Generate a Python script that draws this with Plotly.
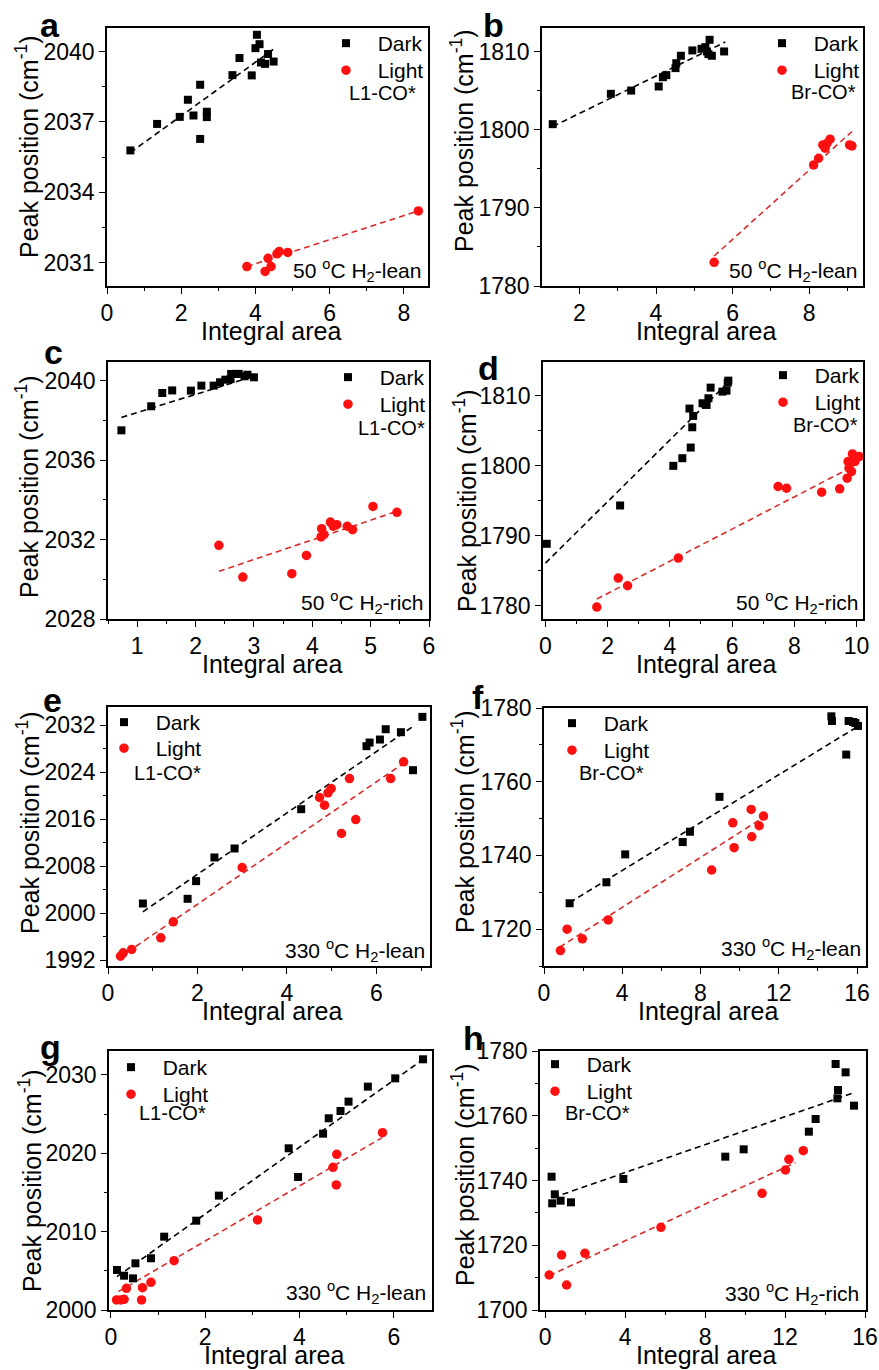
import plotly.graph_objects as go

# ---------------- data ----------------
# a: 50 C H2-lean, L1-CO*
a_dark_x = [0.63, 1.35, 1.96, 2.18, 2.33, 2.51, 2.51, 2.69, 2.69, 3.38, 3.57, 3.90, 4.04, 4.00, 4.11, 4.15, 4.26, 4.34, 4.49]
a_dark_y = [2035.78, 2036.91, 2037.21, 2037.94, 2037.27, 2038.58, 2036.27, 2037.43, 2037.20, 2038.99, 2039.72, 2038.98, 2040.71, 2040.14, 2040.31, 2039.53, 2039.47, 2039.89, 2039.57]
a_light_x = [3.77, 4.26, 4.42, 4.34, 4.58, 4.64, 4.87, 8.39]
a_light_y = [2030.83, 2030.62, 2030.83, 2031.18, 2031.37, 2031.47, 2031.43, 2033.20]
a_fit_dark_x, a_fit_dark_y = [0.63, 4.49], [2035.69, 2040.10]
a_fit_light_x, a_fit_light_y = [3.77, 8.39], [2030.83, 2033.20]

# b: 50 C H2-lean, Br-CO*
b_dark_x = [1.30, 2.82, 3.35, 4.07, 4.18, 4.27, 4.51, 4.53, 4.65, 4.95, 5.19, 5.29, 5.33, 5.40, 5.37, 5.46, 5.78]
b_dark_y = [1800.70, 1804.58, 1805.00, 1805.52, 1806.71, 1806.97, 1807.87, 1808.50, 1809.45, 1810.13, 1810.34, 1810.55, 1810.00, 1811.49, 1809.66, 1809.45, 1810.00]
b_light_x = [5.52, 8.12, 8.25, 8.36, 8.42, 8.47, 8.55, 9.06, 9.12]
b_light_y = [1783.03, 1795.49, 1796.34, 1798.05, 1797.62, 1798.26, 1798.78, 1798.05, 1797.92]
b_fit_dark_x, b_fit_dark_y = [1.30, 5.81], [1800.40, 1811.20]
b_fit_light_x, b_fit_light_y = [5.52, 9.12], [1783.84, 1799.76]

# c: 50 C H2-rich, L1-CO*
c_dark_x = [0.73, 1.24, 1.43, 1.60, 1.92, 2.10, 2.31, 2.42, 2.51, 2.60, 2.61, 2.68, 2.74, 2.84, 2.89, 3.00]
c_dark_y = [2037.50, 2038.71, 2039.38, 2039.51, 2039.50, 2039.75, 2039.75, 2039.92, 2040.05, 2040.08, 2040.34, 2040.34, 2040.34, 2040.22, 2040.30, 2040.17]
c_light_x = [2.40, 2.81, 3.65, 3.90, 4.15, 4.16, 4.20, 4.31, 4.36, 4.42, 4.60, 4.69, 5.04, 5.45]
c_light_y = [2031.71, 2030.11, 2030.28, 2031.20, 2032.13, 2032.55, 2032.25, 2032.88, 2032.67, 2032.75, 2032.67, 2032.50, 2033.67, 2033.37]
c_fit_dark_x, c_fit_dark_y = [0.73, 3.00], [2038.15, 2040.22]
c_fit_light_x, c_fit_light_y = [2.40, 5.45], [2030.40, 2033.42]

# d: 50 C H2-rich, Br-CO*
d_dark_x = [0.04, 2.40, 4.11, 4.40, 4.67, 4.63, 4.72, 4.75, 5.05, 5.18, 5.24, 5.31, 5.69, 5.82, 5.86, 5.88]
d_dark_y = [1788.84, 1794.31, 1799.97, 1801.06, 1802.58, 1808.15, 1805.48, 1807.10, 1808.91, 1808.67, 1809.62, 1811.14, 1810.57, 1810.71, 1811.85, 1812.14]
d_light_x = [1.65, 2.34, 2.64, 4.27, 7.48, 7.75, 8.88, 9.46, 9.70, 9.73, 9.76, 9.84, 9.87, 9.95, 10.09]
d_light_y = [1779.80, 1783.94, 1782.85, 1786.80, 1797.02, 1796.78, 1796.21, 1796.69, 1798.21, 1800.58, 1799.63, 1799.16, 1801.68, 1800.58, 1801.30]
d_fit_dark_x, d_fit_dark_y = [0.00, 5.82], [1786.08, 1811.66]
d_fit_light_x, d_fit_light_y = [1.65, 9.68], [1780.95, 1799.40]

# e: 330 C H2-lean, L1-CO*
e_dark_x = [0.78, 1.78, 1.97, 2.38, 2.83, 4.32, 5.78, 5.85, 6.08, 6.21, 6.55, 6.82, 7.03]
e_dark_y = [2001.64, 2002.44, 2005.45, 2009.48, 2011.01, 2017.70, 2028.43, 2029.05, 2029.56, 2031.32, 2030.81, 2024.34, 2033.42]
e_light_x = [0.28, 0.34, 0.53, 1.18, 1.46, 3.00, 4.73, 4.84, 4.92, 4.99, 5.22, 5.40, 5.54, 6.32, 6.61]
e_light_y = [1992.68, 1993.25, 1993.82, 1995.80, 1998.53, 2007.77, 2019.69, 2018.38, 2020.48, 2021.22, 2013.56, 2022.92, 2015.94, 2022.92, 2025.76]
e_fit_dark_x, e_fit_dark_y = [0.78, 6.86], [2000.23, 2032.00]
e_fit_light_x, e_fit_light_y = [0.25, 6.60], [1992.40, 2025.47]

# f: 330 C H2-lean, Br-CO*
f_dark_x = [1.31, 3.19, 4.15, 7.09, 7.46, 8.97, 14.69, 14.72, 15.45, 15.57, 15.80, 15.92, 16.05]
f_dark_y = [1727.02, 1732.71, 1740.29, 1743.63, 1746.43, 1755.90, 1777.74, 1776.48, 1767.36, 1776.48, 1776.20, 1775.94, 1775.13]
f_light_x = [0.84, 1.18, 1.96, 3.28, 8.57, 9.65, 9.72, 10.59, 10.62, 11.00, 11.22]
f_light_y = [1714.20, 1719.98, 1717.36, 1722.51, 1736.05, 1748.86, 1742.09, 1752.47, 1745.07, 1748.05, 1750.67]
f_fit_dark_x, f_fit_dark_y = [1.31, 16.00], [1727.20, 1774.86]
f_fit_light_x, f_fit_light_y = [0.80, 11.13], [1715.10, 1750.04]

# g: 330 C H2-lean, L1-CO*
g_dark_x = [0.13, 0.28, 0.47, 0.52, 0.85, 1.13, 1.81, 2.29, 3.77, 3.97, 4.50, 4.62, 4.87, 5.04, 5.45, 6.03, 6.62]
g_dark_y = [2005.11, 2004.38, 2004.04, 2005.96, 2006.60, 2009.36, 2011.40, 2014.60, 2020.64, 2016.98, 2022.51, 2024.47, 2025.40, 2026.60, 2028.51, 2029.57, 2032.00]
g_light_x = [0.12, 0.21, 0.28, 0.33, 0.65, 0.67, 0.85, 1.34, 3.11, 4.71, 4.79, 4.78, 5.76]
g_light_y = [2001.28, 2001.28, 2001.36, 2002.77, 2001.28, 2002.85, 2003.53, 2006.30, 2011.49, 2018.21, 2019.87, 2015.96, 2022.64]
g_fit_dark_x, g_fit_dark_y = [0.13, 6.60], [2004.26, 2031.90]
g_fit_light_x, g_fit_light_y = [0.16, 5.75], [2002.34, 2022.00]

# h: 330 C H2-rich, Br-CO*
h_dark_x = [0.32, 0.35, 0.48, 0.77, 1.29, 3.91, 9.01, 9.93, 13.19, 13.53, 14.53, 14.65, 14.62, 15.03, 15.45]
h_dark_y = [1741.18, 1732.95, 1735.73, 1733.77, 1733.26, 1740.46, 1747.36, 1749.63, 1755.08, 1759.00, 1775.98, 1767.95, 1765.38, 1773.41, 1763.11]
h_light_x = [0.20, 0.82, 1.07, 1.99, 5.79, 10.85, 12.02, 12.19, 12.91]
h_light_y = [1710.81, 1716.99, 1707.72, 1717.50, 1725.53, 1736.04, 1743.24, 1746.54, 1749.21]
h_fit_dark_x, h_fit_dark_y = [0.40, 15.45], [1734.70, 1767.13]
h_fit_light_x, h_fit_light_y = [0.20, 12.52], [1710.60, 1745.50]

panel_letters = ["a", "b", "c", "d", "e", "f", "g", "h"]
species = ["L1-CO*", "Br-CO*", "L1-CO*", "Br-CO*", "L1-CO*", "Br-CO*", "L1-CO*", "Br-CO*"]
conditions = ["50 <sup>o</sup>C H<sub>2</sub>-lean", "50 <sup>o</sup>C H<sub>2</sub>-lean",
              "50 <sup>o</sup>C H<sub>2</sub>-rich", "50 <sup>o</sup>C H<sub>2</sub>-rich",
              "330 <sup>o</sup>C H<sub>2</sub>-lean", "330 <sup>o</sup>C H<sub>2</sub>-lean",
              "330 <sup>o</sup>C H<sub>2</sub>-lean", "330 <sup>o</sup>C H<sub>2</sub>-rich"]
series_names = ["Dark", "Light"]
x_title = "Integral area"
y_title = "Peak position (cm<sup>-1</sup>)"
x_ranges = [[0, 8.65], [1.02, 9.41], [0.5, 6.0], [-0.08, 10.21], [0, 7.2], [0, 16.46], [-0.04, 6.81], [-0.26, 16.05]]
y_ranges = [[2030.0, 2041.0], [1780, 1813], [2028, 2040.94], [1778.1, 1814.8], [1991, 2035.1], [1710, 1780], [2000, 2033.06], [1700, 1780]]
x_dticks = [2, 2, 1, 2, 2, 4, 2, 4]
y_dticks = [3, 10, 4, 10, 8, 20, 10, 20]

panels = [
    (a_dark_x, a_dark_y, a_light_x, a_light_y, a_fit_dark_x, a_fit_dark_y, a_fit_light_x, a_fit_light_y),
    (b_dark_x, b_dark_y, b_light_x, b_light_y, b_fit_dark_x, b_fit_dark_y, b_fit_light_x, b_fit_light_y),
    (c_dark_x, c_dark_y, c_light_x, c_light_y, c_fit_dark_x, c_fit_dark_y, c_fit_light_x, c_fit_light_y),
    (d_dark_x, d_dark_y, d_light_x, d_light_y, d_fit_dark_x, d_fit_dark_y, d_fit_light_x, d_fit_light_y),
    (e_dark_x, e_dark_y, e_light_x, e_light_y, e_fit_dark_x, e_fit_dark_y, e_fit_light_x, e_fit_light_y),
    (f_dark_x, f_dark_y, f_light_x, f_light_y, f_fit_dark_x, f_fit_dark_y, f_fit_light_x, f_fit_light_y),
    (g_dark_x, g_dark_y, g_light_x, g_light_y, g_fit_dark_x, g_fit_dark_y, g_fit_light_x, g_fit_light_y),
    (h_dark_x, h_dark_y, h_light_x, h_light_y, h_fit_dark_x, h_fit_dark_y, h_fit_light_x, h_fit_light_y),
]

# ---------------- layout geometry (pixels) ----------------
W, H = 879, 1370
boxes = [  # left, right, top, bottom in px
    (107, 428, 28, 286), (542, 863, 28, 286),
    (108, 429, 362, 619), (543, 863, 362, 619),
    (108, 430, 707, 966), (544, 866, 708, 966),
    (109, 432, 1051, 1310), (540, 866, 1051, 1310),
]
# legend symbol x, Dark row y, Light row y
legend_pos = [(346, 43, 70), (782, 43, 70), (348, 377, 404), (783, 375, 402),
              (124, 722, 748), (572, 723, 750), (131, 1067, 1094), (555, 1064, 1091)]
# species label: anchor x, y, side
species_pos = [(418, 93, "right"), (858, 92, "right"), (427, 428, "right"), (860, 425, "right"),
               (132, 773, "left"), (577, 773, "left"), (137, 1113, "left"), (563, 1113, "left")]
cond_pos = [(423, 270), (859, 270), (426, 602), (861, 602), (427, 950), (863, 948), (428, 1292), (861, 1293)]
ytitle_pos = [(27, 147), (462, 141), (27, 487), (465, 501), (28, 823), (463, 822), (30, 1181), (463, 1175)]
letter_pos = [(50, 25), (493, 25), (53, 352), (489, 368), (52, 700), (478, 697), (50, 1047), (473, 1038)]

FONT = "Arial, Liberation Sans, sans-serif"
RED = "#ff1010"
RED_LINE = "#d92b2b"

fig = go.Figure()
layout = dict(width=W, height=H, margin=dict(l=0, r=0, t=0, b=0),
              paper_bgcolor="white", plot_bgcolor="white",
              font=dict(family=FONT, color="black"), annotations=[])


def ann(text, x, y, size, xanchor="center", yanchor="middle", angle=0):
    layout["annotations"].append(dict(text=text, xref="paper", yref="paper", x=x / W, y=1 - y / H,
                                      xanchor=xanchor, yanchor=yanchor, showarrow=False, textangle=angle,
                                      font=dict(size=size, family=FONT, color="black")))


for i, p in enumerate(panels):
    dx, dy, lx, ly, fdx, fdy, flx, fly = p
    n = i + 1
    xa = "x" if n == 1 else f"x{n}"
    ya = "y" if n == 1 else f"y{n}"
    lg_d = "legend" if i == 0 else f"legend{2 * i + 1}"
    lg_l = f"legend{2 * i + 2}"
    fig.add_trace(go.Scatter(x=fdx, y=fdy, mode="lines", xaxis=xa, yaxis=ya, showlegend=False,
                             line=dict(color="black", width=1.6, dash="6px,4px")))
    fig.add_trace(go.Scatter(x=flx, y=fly, mode="lines", xaxis=xa, yaxis=ya, showlegend=False,
                             line=dict(color=RED_LINE, width=1.6, dash="6px,4px")))
    fig.add_trace(go.Scatter(x=dx, y=dy, mode="markers", xaxis=xa, yaxis=ya,
                             name="\u00a0\u00a0" + series_names[0], legend=lg_d,
                             marker=dict(symbol="square", size=8, color="black")))
    fig.add_trace(go.Scatter(x=lx, y=ly, mode="markers", xaxis=xa, yaxis=ya,
                             name="\u00a0\u00a0" + series_names[1], legend=lg_l,
                             marker=dict(symbol="circle", size=9.5, color=RED)))

    L, R, T, B = boxes[i]
    xd = [L / W, R / W]
    yd = [1 - B / H, 1 - T / H]
    axis_common = dict(showline=True, linewidth=1.6, linecolor="black", mirror=True,
                       ticks="outside", ticklen=6, tickwidth=1.4, tickcolor="black",
                       showgrid=False, zeroline=False, tickfont=dict(size=23, family=FONT, color="black"),
                       automargin=False)
    layout["xaxis" if n == 1 else f"xaxis{n}"] = dict(
        domain=xd, range=x_ranges[i], dtick=x_dticks[i], tick0=0, anchor=ya,
        minor=dict(ticks="outside", ticklen=3, tickwidth=1.2, tickcolor="black", dtick=x_dticks[i] / 2, showgrid=False),
        **axis_common)
    layout["yaxis" if n == 1 else f"yaxis{n}"] = dict(
        domain=yd, range=y_ranges[i], dtick=y_dticks[i], tick0=0, anchor=xa,
        minor=dict(ticks="outside", ticklen=3, tickwidth=1.2, tickcolor="black", dtick=y_dticks[i] / 2, showgrid=False),
        **axis_common)

    # legends (one per entry so rows can be placed like the reference)
    sx, ry_d, ry_l = legend_pos[i]
    for lg, ry in ((lg_d, ry_d), (lg_l, ry_l)):
        layout[lg] = dict(x=(sx - 20) / W, y=1 - (ry - 20) / H, xanchor="left", yanchor="top",
                          bgcolor="rgba(0,0,0,0)", font=dict(size=21, family=FONT, color="black"),
                          itemwidth=30, tracegroupgap=0)

    # axis titles
    ann(x_title, (L + R) / 2 + 3, B + 45, 25)
    tx, ty = ytitle_pos[i]
    ann(y_title, tx, ty, 25, angle=-90)
    # panel letter
    lx_, ly_ = letter_pos[i]
    ann(f"<b>{panel_letters[i]}</b>", lx_, ly_, 34)
    # species label
    spx, spy, side = species_pos[i]
    ann(species[i], spx, spy, 20, xanchor=side)
    # condition label
    cx, cy = cond_pos[i]
    ann(conditions[i], cx, cy, 21, xanchor="right")

fig.update_layout(**layout)
fig.write_html("out.html")
